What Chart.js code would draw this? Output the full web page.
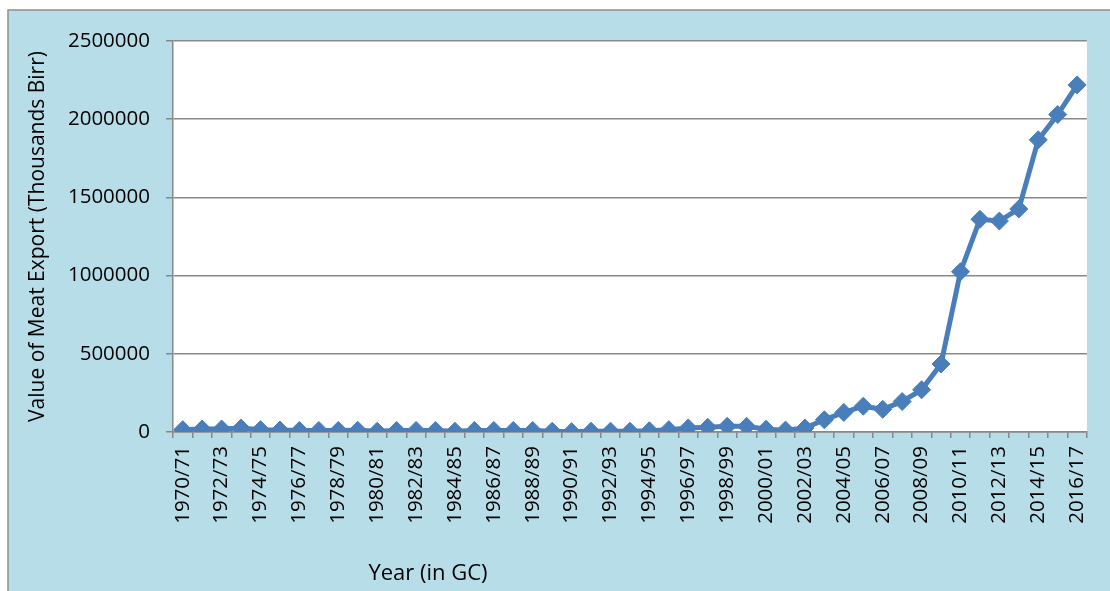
<!DOCTYPE html>
<html>
<head>
<meta charset="utf-8">
<script src="https://cdn.jsdelivr.net/npm/chart.js@4.4.1/dist/chart.umd.min.js"></script>
<style>
  html, body { margin: 0; padding: 0; background: #ffffff; }
  #wrap { width: 1110px; height: 591px; position: relative; }
</style>
</head>
<body>
<div id="wrap"><canvas id="c" width="1110" height="591"></canvas></div>
<script>
const categories = [
  '1970/71','1971/72','1972/73','1973/74','1974/75','1975/76','1976/77','1977/78','1978/79','1979/80',
  '1980/81','1981/82','1982/83','1983/84','1984/85','1985/86','1986/87','1987/88','1988/89','1989/90',
  '1990/91','1991/92','1992/93','1993/94','1994/95','1995/96','1996/97','1997/98','1998/99','1999/00',
  '2000/01','2001/02','2002/03','2003/04','2004/05','2005/06','2006/07','2007/08','2008/09','2009/10',
  '2010/11','2011/12','2012/13','2013/14','2014/15','2015/16','2016/17'
];
const meatExportValues = [
  15000, 19000, 19000, 25000, 15000, 12000, 10000, 10000, 10000, 11000,
  5000, 10000, 10000, 10000, 5000, 10000, 10000, 10000, 10000, 5000,
  2000, 5000, 5000, 5000, 8000, 15000, 26000, 30000, 36000, 36000,
  18000, 12000, 25000, 78000, 125000, 165000, 145000, 195000, 270000, 435000,
  1025000, 1360000, 1349000, 1426000, 1868000, 2030000, 2219000
];
const yTicks = [0, 500000, 1000000, 1500000, 2000000, 2500000];
const yTitle = 'Value of Meat Export (Thousands Birr)';
const xTitle = 'Year (in GC)';

const FONT = '"Open Sans", "Noto Sans", sans-serif';

const backgroundPlugin = {
  id: 'bgBox',
  beforeDraw(chart) {
    const ctx = chart.ctx;
    const ca = chart.chartArea;
    ctx.save();
    ctx.fillStyle = '#ffffff';
    ctx.fillRect(0, 0, chart.width, chart.height);
    ctx.fillStyle = '#b7dde8';
    ctx.fillRect(8, 10, chart.width - 8, chart.height - 10);
    ctx.strokeStyle = '#8f8f8f';
    ctx.lineWidth = 1.5;
    ctx.beginPath();
    ctx.moveTo(8, chart.height);
    ctx.lineTo(8, 10);
    ctx.lineTo(chart.width, 10);
    ctx.stroke();
    ctx.fillStyle = '#ffffff';
    ctx.fillRect(ca.left, ca.top, ca.right - ca.left, ca.bottom - ca.top);
    ctx.restore();
  },
  afterDraw(chart) {
    const ctx = chart.ctx;
    ctx.save();
    ctx.fillStyle = '#000000';
    ctx.font = '22px ' + FONT;
    ctx.textAlign = 'center';
    ctx.textBaseline = 'middle';
    ctx.fillText(xTitle, 428, 574);
    ctx.restore();
  }
};

new Chart(document.getElementById('c'), {
  type: 'line',
  data: {
    labels: categories,
    datasets: [{
      data: meatExportValues,
      borderColor: '#4a7ebb',
      backgroundColor: '#4a7ebb',
      borderWidth: 5,
      tension: 0,
      pointStyle: 'rectRot',
      pointRadius: 9,
      pointHoverRadius: 9,
      pointBorderWidth: 1,
      pointBorderColor: '#4a7ebb',
      pointBackgroundColor: '#4a7ebb',
      fill: false
    }]
  },
  options: {
    responsive: false,
    animation: false,
    devicePixelRatio: 1,
    layout: { padding: { left: 8, top: 41, right: 23, bottom: 0 } },
    plugins: {
      legend: { display: false },
      tooltip: { enabled: false },
      title: { display: false }
    },
    scales: {
      x: {
        type: 'category',
        offset: true,
        afterFit(scale) { scale.height = 159; },
        grid: {
          offset: true,
          drawOnChartArea: false,
          drawTicks: true,
          tickLength: 6,
          color: '#888888',
          lineWidth: 1.5
        },
        border: { display: true, color: '#888888', width: 1.5 },
        ticks: {
          autoSkip: false,
          minRotation: 90,
          maxRotation: 90,
          padding: 8,
          color: '#000000',
          font: { family: FONT, size: 20.5 },
          callback(value, index) { return index % 2 === 0 ? categories[index] : ''; }
        }
      },
      y: {
        min: yTicks[0],
        max: yTicks[yTicks.length - 1],
        afterFit(scale) { scale.width = 165; },
        afterBuildTicks(scale) { scale.ticks = yTicks.map(v => ({ value: v })); },
        grid: {
          drawTicks: true,
          tickLength: 7,
          color: '#888888',
          lineWidth: 1.5
        },
        border: { display: true, color: '#888888', width: 1.5 },
        ticks: {
          padding: 16,
          color: '#000000',
          font: { family: FONT, size: 20.5 },
          callback(value) { return String(value); }
        },
        title: {
          display: true,
          text: yTitle,
          color: '#000000',
          font: { family: FONT, size: 21 },
          padding: { top: 17, bottom: 0 }
        }
      }
    }
  },
  plugins: [backgroundPlugin]
});
</script>
</body>
</html>
